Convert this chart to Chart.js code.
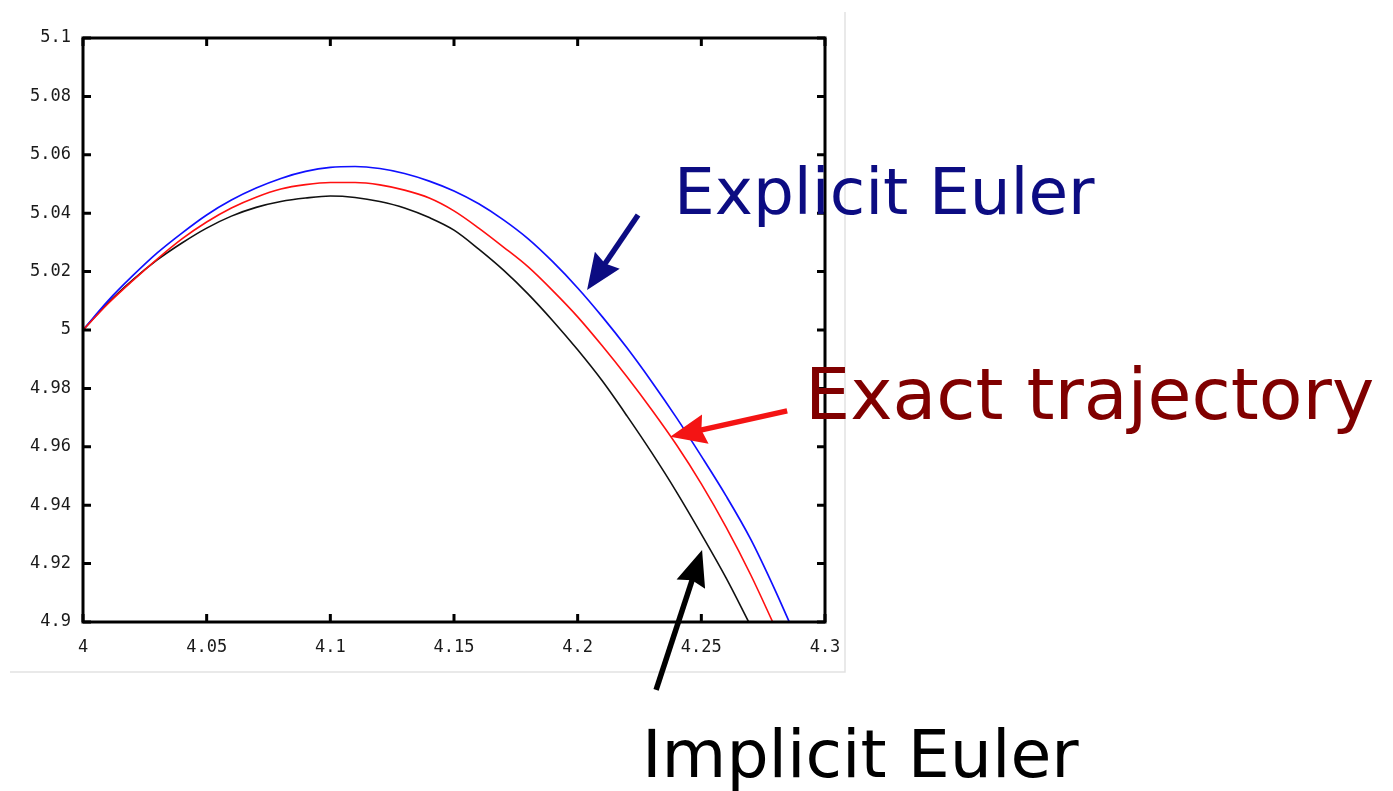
<!DOCTYPE html>
<html>
<head>
<meta charset="utf-8">
<title>Explicit / implicit Euler vs exact trajectory</title>
<script src="https://cdn.jsdelivr.net/npm/chart.js@4.4.1/dist/chart.umd.min.js"></script>
<style>
  html, body { margin: 0; padding: 0; background: #fff; }
</style>
</head>
<body>
<canvas id="trajectory-chart" width="1393" height="791"></canvas>
<script>
// sample positions along x
const xValues = [4.00, 4.01, 4.02, 4.03, 4.04, 4.05, 4.06, 4.07, 4.08, 4.09,
  4.10, 4.11, 4.12, 4.13, 4.14, 4.15, 4.16, 4.17, 4.18, 4.19,
  4.20, 4.21, 4.22, 4.23, 4.24, 4.25, 4.26, 4.27, 4.28, 4.29];

const explicitEuler = [5.0000, 5.0099, 5.0185, 5.0264, 5.0332, 5.0394, 5.0445, 5.0486, 5.0519, 5.0543,
  5.0557, 5.0560, 5.0553, 5.0536, 5.0510, 5.0476, 5.0432, 5.0377, 5.0312, 5.0233,
  5.0144, 5.0045, 4.9938, 4.9822, 4.9699, 4.9568, 4.9432, 4.9283, 4.9106, 4.8914];

const exactTrajectory = [5.0000, 5.0089, 5.0168, 5.0243, 5.0312, 5.0370, 5.0418, 5.0455, 5.0483, 5.0498,
  5.0505, 5.0505, 5.0497, 5.0479, 5.0452, 5.0408, 5.0349, 5.0284, 5.0216, 5.0134,
  5.0045, 4.9945, 4.9839, 4.9726, 4.9606, 4.9473, 4.9325, 4.9161, 4.8979];

const implicitEuler = [5.0000, 5.0092, 5.0171, 5.0240, 5.0298, 5.0349, 5.0390, 5.0420, 5.0440, 5.0452,
  5.0459, 5.0454, 5.0440, 5.0418, 5.0385, 5.0342, 5.0277, 5.0205, 5.0123, 5.0031,
  4.9932, 4.9825, 4.9705, 4.9579, 4.9445, 4.9301, 4.9151, 4.8986];

const xTicks = [4, 4.05, 4.1, 4.15, 4.2, 4.25, 4.3];
const xTickLabels = ["4", "4.05", "4.1", "4.15", "4.2", "4.25", "4.3"];
const yTicks = [4.9, 4.92, 4.94, 4.96, 4.98, 5, 5.02, 5.04, 5.06, 5.08, 5.1];
const yTickLabels = ["4.9", "4.92", "4.94", "4.96", "4.98", "5", "5.02", "5.04", "5.06", "5.08", "5.1"];

const toPoints = (ys) => ys.map((y, i) => ({ x: xValues[i], y: y }));

// callouts: label text plus an arrow whose tip sits on a curve (data coords)
const callouts = [
  { text: "Explicit Euler", color: "#0c0c82", arrow: "#0c0c82", font: '64.5px "DejaVu Sans"',
    textX: 674, textY: 214, tip: [4.2038, 5.0137], tail: [51, -75] },
  { text: "Exact trajectory", color: "#800000", arrow: "#f41414", font: '71.5px "DejaVu Sans"',
    textX: 805, textY: 419, tip: [4.2374, 4.9634], tail: [117, -26] },
  { text: "Implicit Euler", color: "#000000", arrow: "#000000", font: '66.5px "DejaVu Sans"',
    textX: 642, textY: 777, tip: [4.2503, 4.9247], tail: [-46, 140] },
];

function drawArrow(ctx, tx, ty, fx, fy, color) {
  const ang = Math.atan2(ty - fy, tx - fx);
  const cos = Math.cos(ang), sin = Math.sin(ang);
  const headLen = 36, headHalf = 15;
  const bx = tx - headLen * cos, by = ty - headLen * sin;
  ctx.strokeStyle = color;
  ctx.fillStyle = color;
  ctx.lineWidth = 5.5;
  ctx.lineCap = "butt";
  ctx.beginPath();
  ctx.moveTo(fx, fy);
  ctx.lineTo(bx + 6 * cos, by + 6 * sin);
  ctx.stroke();
  ctx.beginPath();
  ctx.moveTo(tx, ty);
  ctx.lineTo(bx + headHalf * sin, by - headHalf * cos);
  ctx.lineTo(bx + 4 * cos, by + 4 * sin);
  ctx.lineTo(bx - headHalf * sin, by + headHalf * cos);
  ctx.closePath();
  ctx.fill();
}

const boxPlugin = {
  id: "boxPlugin",
  beforeDraw(chart) {
    const ctx = chart.ctx;
    ctx.save();
    ctx.fillStyle = "#fff";
    ctx.fillRect(0, 0, chart.width, chart.height);
    // faint edge of the plot panel
    ctx.strokeStyle = "#e2e2e2";
    ctx.lineWidth = 1.5;
    ctx.beginPath();
    ctx.moveTo(845, 12);
    ctx.lineTo(845, 672);
    ctx.lineTo(10, 672);
    ctx.stroke();
    ctx.restore();
  },
  afterDatasetsDraw(chart) {
    const { ctx, chartArea: a, scales: { x, y } } = chart;
    ctx.save();
    ctx.strokeStyle = "#000";
    ctx.lineWidth = 3;
    ctx.strokeRect(a.left, a.top, a.right - a.left, a.bottom - a.top);
    ctx.beginPath();
    xTicks.forEach((v) => {
      const px = x.getPixelForValue(v);
      ctx.moveTo(px, a.bottom); ctx.lineTo(px, a.bottom - 8);
      ctx.moveTo(px, a.top); ctx.lineTo(px, a.top + 8);
    });
    yTicks.forEach((v) => {
      const py = y.getPixelForValue(v);
      ctx.moveTo(a.left, py); ctx.lineTo(a.left + 8, py);
      ctx.moveTo(a.right, py); ctx.lineTo(a.right - 8, py);
    });
    ctx.stroke();
    ctx.restore();
  },
  afterDraw(chart) {
    const { ctx, scales: { x, y } } = chart;
    ctx.save();
    callouts.forEach((c) => {
      const tx = x.getPixelForValue(c.tip[0]);
      const ty = y.getPixelForValue(c.tip[1]);
      drawArrow(ctx, tx, ty, tx + c.tail[0], ty + c.tail[1], c.arrow);
      ctx.font = c.font;
      ctx.fillStyle = c.color;
      ctx.textAlign = "left";
      ctx.textBaseline = "alphabetic";
      ctx.fillText(c.text, c.textX, c.textY);
    });
    ctx.restore();
  },
};

const tickFont = { family: '"DejaVu Sans Mono", monospace', size: 17 };

new Chart(document.getElementById("trajectory-chart"), {
  type: "line",
  data: {
    datasets: [
      { label: "Exact trajectory", data: toPoints(exactTrajectory), borderColor: "#ff1010", borderWidth: 1.6 },
      { label: "Explicit Euler", data: toPoints(explicitEuler), borderColor: "#1010ff", borderWidth: 1.7 },
      { label: "Implicit Euler", data: toPoints(implicitEuler), borderColor: "#111111", borderWidth: 1.6 },
    ],
  },
  options: {
    responsive: false,
    animation: false,
    events: [],
    elements: {
      point: { radius: 0 },
      line: { cubicInterpolationMode: "monotone", fill: false },
    },
    layout: { padding: { left: 0, top: 38, right: 568, bottom: 119 } },
    plugins: { legend: { display: false }, tooltip: { enabled: false } },
    scales: {
      x: {
        type: "linear",
        min: 4,
        max: 4.3,
        grid: { display: false, drawTicks: false },
        border: { display: false },
        afterBuildTicks: (scale) => { scale.ticks = xTicks.map((v) => ({ value: v })); },
        afterFit: (scale) => { scale.height = 50; },
        ticks: {
          font: tickFont,
          color: "#1a1a1a",
          padding: 15,
          maxRotation: 0,
          callback: (v, i) => xTickLabels[i],
        },
      },
      y: {
        min: 4.9,
        max: 5.1,
        grid: { display: false, drawTicks: false },
        border: { display: false },
        afterBuildTicks: (scale) => { scale.ticks = yTicks.map((v) => ({ value: v })); },
        afterFit: (scale) => { scale.width = 83; },
        ticks: {
          font: tickFont,
          color: "#1a1a1a",
          padding: 12,
          callback: (v, i) => yTickLabels[i],
        },
      },
    },
  },
  plugins: [boxPlugin],
});
</script>
</body>
</html>
